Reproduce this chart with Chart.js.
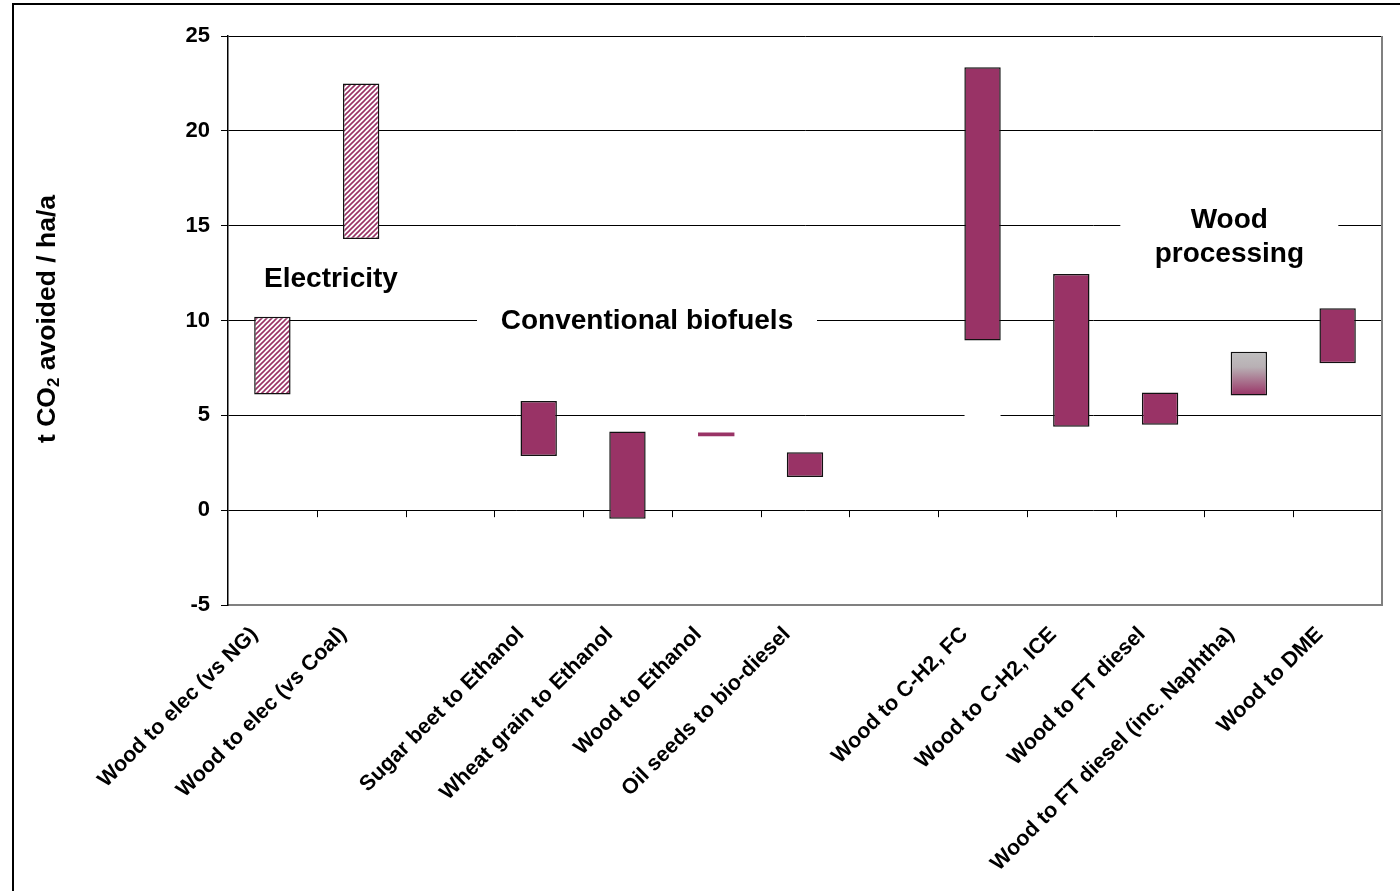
<!DOCTYPE html>
<html>
<head>
<meta charset="utf-8">
<script src="https://cdn.jsdelivr.net/npm/chart.js@4/dist/chart.umd.min.js"></script>
<style>
  html, body { margin: 0; padding: 0; background: #fff; }
  #wrap { width: 1400px; height: 891px; }
</style>
</head>
<body>
<div id="wrap"><canvas id="chart" width="1400" height="891"></canvas></div>
<script>
// Avoided CO2 per hectare and year, as low/high ranges per pathway
const categories = [
  'Wood to elec (vs NG)', 'Wood to elec (vs Coal)', '',
  'Sugar beet to Ethanol', 'Wheat grain to Ethanol', 'Wood to Ethanol', 'Oil seeds to bio-diesel', '',
  'Wood to C-H2, FC', 'Wood to C-H2, ICE', 'Wood to FT diesel', 'Wood to FT diesel (inc. Naphtha)', 'Wood to DME'
];
const lowValues  = [6.1, 14.3, null, 2.85, -0.45, 3.9, 1.75, null, 8.95, 4.4, 4.5, 6.05, 7.75];
const highValues = [10.2, 22.5, null, 5.75, 4.15, 4.1, 3.05, null, 23.35, 12.45, 6.2, 8.35, 10.65];
const yTicks = [-5, 0, 5, 10, 15, 20, 25];

const FONT = '"Liberation Sans", Arial, sans-serif';
const PLUM = '#993366';
const hatchedBars = [0, 1];
const fadedBar = 11;
const thinBar = 5;

// group captions, placed in category index / axis units
const captions = [
  { lines: ['Electricity'], x: 0.66, y: 12.15, box: null },
  { lines: ['Conventional biofuels'], x: 4.22, y: 9.95, box: [340, 34] },
  { lines: ['Wood', 'processing'], x: 10.78, y: 14.4, box: [218, 72] },
  { lines: [], x: 8, y: 5, box: [36, 8] }
];

function makeHatch() {
  const c = document.createElement('canvas');
  c.width = 5; c.height = 5;
  const g = c.getContext('2d');
  g.fillStyle = '#fff';
  g.fillRect(0, 0, 5, 5);
  g.strokeStyle = PLUM;
  g.lineWidth = 1.6;
  g.beginPath();
  g.moveTo(-1, 6); g.lineTo(6, -1);
  g.moveTo(-1, 1); g.lineTo(1, -1);
  g.moveTo(4, 6); g.lineTo(6, 4);
  g.stroke();
  return g.createPattern(c, 'repeat');
}
const hatch = makeHatch();

function barFill(ctx) {
  const i = ctx.dataIndex;
  if (hatchedBars.includes(i)) return hatch;
  if (i === fadedBar) {
    const y = ctx.chart.scales.y;
    if (!y || !ctx.chart.chartArea) return PLUM;
    const top = y.getPixelForValue(highValues[i]);
    const bottom = y.getPixelForValue(lowValues[i]);
    const grad = ctx.chart.ctx.createLinearGradient(0, top, 0, bottom);
    grad.addColorStop(0, '#c0c0c0');
    grad.addColorStop(0.35, '#b8b0b4');
    grad.addColorStop(1, PLUM);
    return grad;
  }
  return PLUM;
}

const decorations = {
  id: 'decorations',
  beforeDraw(chart) {
    const g = chart.ctx;
    g.save();
    g.strokeStyle = '#000';
    g.lineWidth = 2;
    g.beginPath();
    g.moveTo(13, 891);
    g.lineTo(13, 4);
    g.lineTo(1400, 4);
    g.stroke();
    g.restore();
  },
  beforeDatasetsDraw(chart) {
    const g = chart.ctx;
    const { x, y } = chart.scales;
    const area = chart.chartArea;
    g.save();
    // tick marks hanging off the zero line between categories
    const zero = y.getPixelForValue(0);
    g.strokeStyle = '#000';
    g.lineWidth = 1;
    for (let k = 1; k < categories.length; k++) {
      const px = Math.round(x.getPixelForValue(k - 0.5)) + 0.5;
      g.beginPath();
      g.moveTo(px, zero);
      g.lineTo(px, zero + 7);
      g.stroke();
    }
    // right edge of the plot
    g.strokeStyle = '#808080';
    g.lineWidth = 2;
    g.beginPath();
    g.moveTo(area.right, area.top);
    g.lineTo(area.right, area.bottom);
    g.stroke();
    // captions on white boxes
    g.font = 'bold 28px ' + FONT;
    g.textAlign = 'center';
    g.textBaseline = 'middle';
    captions.forEach((c) => {
      const cx = x.getPixelForValue(c.x);
      const cy = y.getPixelForValue(c.y);
      if (c.box) {
        g.fillStyle = '#fff';
        g.fillRect(cx - c.box[0] / 2, cy - c.box[1] / 2, c.box[0], c.box[1]);
      }
      g.fillStyle = '#000';
      const lh = 34;
      c.lines.forEach((line, j) => {
        g.fillText(line, cx, cy + (j - (c.lines.length - 1) / 2) * lh);
      });
    });
    g.restore();
  },
  afterDraw(chart) {
    // axis title with subscript
    const g = chart.ctx;
    g.save();
    g.translate(48, 319);
    g.rotate(-Math.PI / 2);
    g.fillStyle = '#000';
    g.textBaseline = 'middle';
    const big = 'bold 26.5px ' + FONT;
    const small = 'bold 17px ' + FONT;
    const parts = [['t CO', big, 0], ['2', small, 6], [' avoided / ha/a', big, 0]];
    let total = 0;
    parts.forEach((p) => { g.font = p[1]; total += g.measureText(p[0]).width; });
    let pos = -total / 2;
    parts.forEach((p) => {
      g.font = p[1];
      g.fillText(p[0], pos, p[2]);
      pos += g.measureText(p[0]).width;
    });
    g.restore();
  }
};

new Chart(document.getElementById('chart'), {
  type: 'bar',
  data: {
    labels: categories,
    datasets: [{
      data: categories.map((_, i) => (lowValues[i] === null ? null : [lowValues[i], highValues[i]])),
      backgroundColor: barFill,
      borderColor: '#111',
      borderWidth: (ctx) => (ctx.dataIndex === thinBar ? 0 : 1.5),
      borderSkipped: false,
      barPercentage: 0.41,
      categoryPercentage: 1
    }]
  },
  options: {
    responsive: false,
    animation: false,
    devicePixelRatio: 1,
    layout: { padding: { top: 36, right: 18, left: 0, bottom: 0 } },
    plugins: { legend: { display: false }, tooltip: { enabled: false } },
    scales: {
      x: {
        offset: true,
        grid: { display: false, drawTicks: false },
        border: { display: true, color: '#808080', width: 2 },
        ticks: {
          autoSkip: false,
          minRotation: 45,
          maxRotation: 45,
          color: '#000',
          padding: 17,
          labelOffset: -18,
          font: { family: FONT, size: 21.5, weight: 'bold' }
        },
        afterFit(scale) { scale.height = 286; }
      },
      y: {
        min: -5,
        max: 25,
        afterBuildTicks(scale) { scale.ticks = yTicks.map((v) => ({ value: v })); },
        ticks: {
          color: '#000',
          padding: 11,
          font: { family: FONT, size: 22, weight: 'bold' }
        },
        grid: {
          color: (ctx) => (ctx.tick && ctx.tick.value === -5 ? '#808080' : '#000'),
          lineWidth: 1,
          tickLength: 7,
          tickColor: '#000'
        },
        border: { color: '#000', width: 1.5 },
        afterFit(scale) { scale.width = 228; }
      }
    }
  },
  plugins: [decorations]
});
</script>
</body>
</html>
